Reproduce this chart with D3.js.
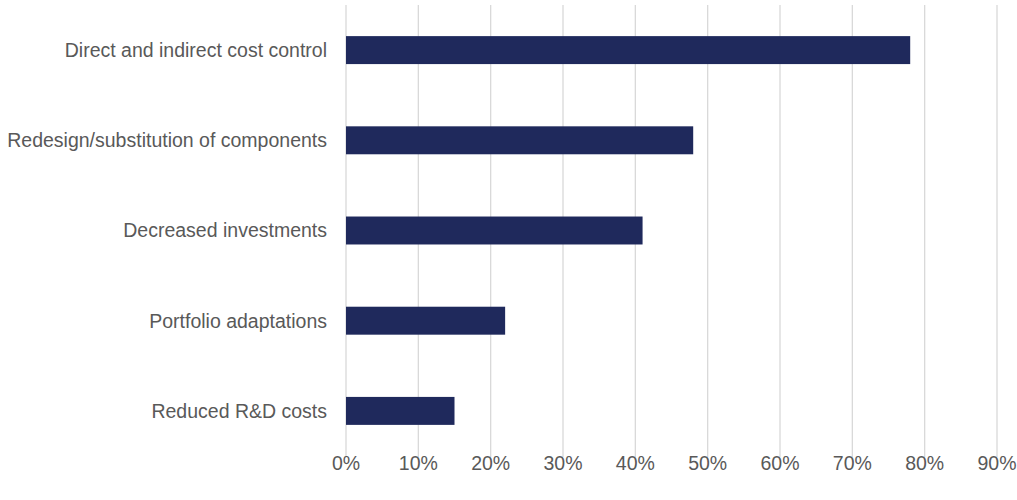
<!DOCTYPE html>
<html><head><meta charset="utf-8">
<script src="https://cdn.jsdelivr.net/npm/d3@7"></script>
<style>body{margin:0;background:#fff}svg{display:block}</style>
</head><body><svg id="c" width="1017" height="500"></svg>
<script>
const categories = ["Direct and indirect cost control","Redesign/substitution of components","Decreased investments","Portfolio adaptations","Reduced R&D costs"];
const values = [0.78, 0.48, 0.41, 0.22, 0.15];
const ticks = [0,0.1,0.2,0.3,0.4,0.5,0.6,0.7,0.8,0.9];

const svg = d3.select("#c");
const x = d3.scaleLinear().domain([0,0.9]).range([346,997]);
const y = d3.scaleBand().domain(categories).range([5,456]).paddingInner(0.69).paddingOuter(0.345);
const font = "'Liberation Sans', Arial, sans-serif";

svg.append("g").selectAll("line").data(ticks).join("line")
  .attr("x1",d=>x(d)).attr("x2",d=>x(d)).attr("y1",5).attr("y2",457)
  .attr("stroke","#d9d9d9").attr("stroke-width",1.3);

svg.append("g").selectAll("rect").data(values).join("rect")
  .attr("x",x(0)).attr("y",(d,i)=>y(categories[i]))
  .attr("width",d=>x(d)-x(0)).attr("height",y.bandwidth())
  .attr("fill","#1f295c");

svg.append("g").selectAll("text").data(categories).join("text")
  .attr("x",327).attr("y",d=>y(d)+y.bandwidth()/2).attr("dy","0.35em")
  .attr("text-anchor","end").attr("fill","#595959")
  .style("font-family",font).style("font-size","19.5px").text(d=>d);

svg.append("g").selectAll("text").data(ticks).join("text")
  .attr("x",d=>x(d)).attr("y",463).attr("dy","0.35em")
  .attr("text-anchor","middle").attr("fill","#595959")
  .style("font-family",font).style("font-size","19.5px").text(d=>d3.format(".0%")(d));
</script></body></html>
